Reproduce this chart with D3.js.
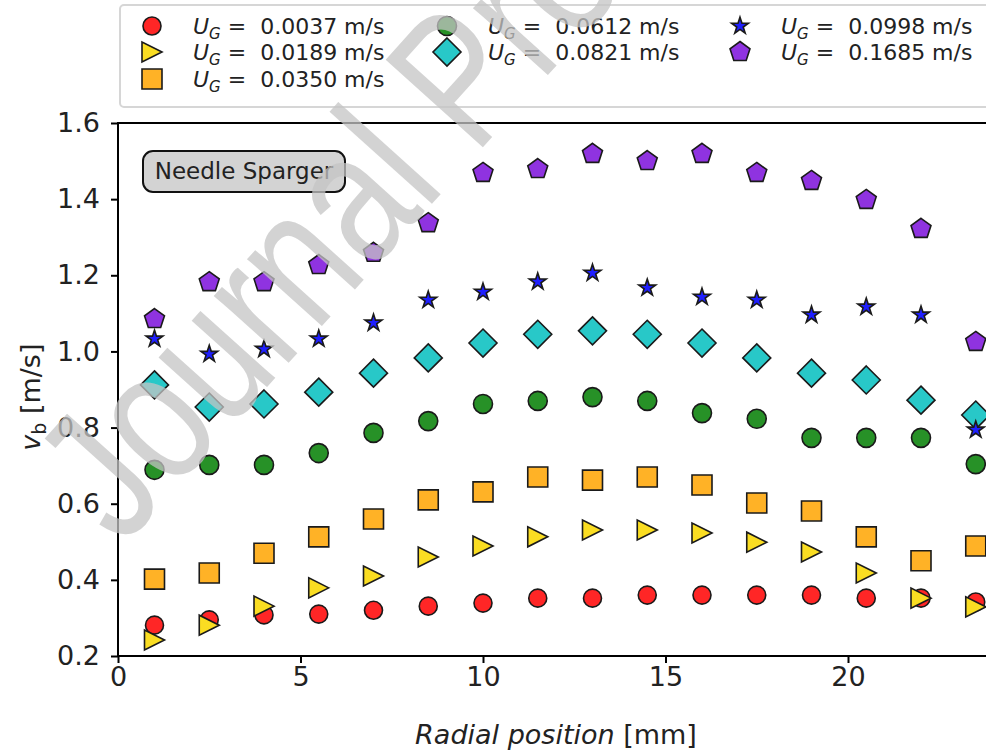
<!DOCTYPE html>
<html>
<head>
<meta charset="utf-8">
<script src="https://cdn.jsdelivr.net/npm/d3@7"></script>
<style>
  body { margin: 0; background: #fff; }
  svg { display: block; font-family: "DejaVu Sans", sans-serif; }
</style>
</head>
<body>
<div class="container"></div>
<script>
const w = 986;
const h = 753;

// data
const radialPos = [1, 2.5, 4, 5.5, 7, 8.5, 10, 11.5, 13, 14.5, 16, 17.5, 19, 20.5, 22, 23.5];
const ugLabels = ['0.0037', '0.0189', '0.0350', '0.0612', '0.0821', '0.0998', '0.1685'];
const vb0037 = [0.281, 0.295, 0.308, 0.310, 0.320, 0.331, 0.339, 0.352, 0.352, 0.360, 0.360, 0.360, 0.360, 0.352, 0.352, 0.342];
const vb0189 = [0.242, 0.281, 0.331, 0.379, 0.410, 0.460, 0.489, 0.513, 0.531, 0.531, 0.523, 0.499, 0.473, 0.418, 0.352, 0.329];
const vb0350 = [0.402, 0.418, 0.470, 0.513, 0.560, 0.610, 0.631, 0.670, 0.662, 0.670, 0.649, 0.602, 0.581, 0.513, 0.450, 0.489];
const vb0612 = [0.689, 0.702, 0.702, 0.733, 0.786, 0.817, 0.862, 0.870, 0.880, 0.870, 0.838, 0.823, 0.773, 0.773, 0.773, 0.704];
const vb0821 = [0.912, 0.854, 0.862, 0.893, 0.943, 0.983, 1.022, 1.045, 1.054, 1.045, 1.022, 0.983, 0.943, 0.925, 0.872, 0.833];
const vb0998 = [1.033, 0.993, 1.006, 1.033, 1.075, 1.135, 1.156, 1.183, 1.206, 1.167, 1.143, 1.135, 1.096, 1.117, 1.096, 0.794];
const vb1685 = [1.085, 1.182, 1.182, 1.227, 1.259, 1.337, 1.469, 1.479, 1.519, 1.500, 1.519, 1.469, 1.448, 1.398, 1.322, 1.025];
const xTicks = [0, 5, 10, 15, 20];
const yTicks = [0.2, 0.4, 0.6, 0.8, 1.0, 1.2, 1.4, 1.6];

const seriesValues = [vb0037, vb0189, vb0350, vb0612, vb0821, vb0998, vb1685];
const colors = ['#ff2626', '#fadd22', '#ffb226', '#279127', '#28c8c8', '#1f1fff', '#8f33e0'];

// custom marker shapes (size = radius^2)
const rightTriangle = {
  draw(ctx, size) {
    const r = Math.sqrt(size);
    ctx.moveTo(r, 0);
    ctx.lineTo(-r, -r);
    ctx.lineTo(-r, r);
    ctx.closePath();
  }
};
const diamond = {
  draw(ctx, size) {
    const r = Math.sqrt(size);
    ctx.moveTo(0, -r);
    ctx.lineTo(r, 0);
    ctx.lineTo(0, r);
    ctx.lineTo(-r, 0);
    ctx.closePath();
  }
};
const pentagon = {
  draw(ctx, size) {
    const r = Math.sqrt(size);
    for (let i = 0; i < 5; i++) {
      const a = -Math.PI / 2 + i * 2 * Math.PI / 5;
      if (i === 0) ctx.moveTo(r * Math.cos(a), r * Math.sin(a));
      else ctx.lineTo(r * Math.cos(a), r * Math.sin(a));
    }
    ctx.closePath();
  }
};
const markers = [
  d3.symbol(d3.symbolCircle, Math.PI * 9 * 9),
  d3.symbol(rightTriangle, 10 * 10),
  d3.symbol(d3.symbolSquare, 20 * 20),
  d3.symbol(d3.symbolCircle, Math.PI * 9.5 * 9.5),
  d3.symbol(diamond, 14 * 14),
  d3.symbol(d3.symbolStar, 88),
  d3.symbol(pentagon, 10.5 * 10.5)
];

const svg = d3.select('.container')
  .append('svg')
  .attr('width', w)
  .attr('height', h);

const xScale = d3.scaleLinear().domain([0, 24]).range([118, 994]);
const yScale = d3.scaleLinear().domain([0.2, 1.6]).range([656, 123]);

// axes
const xAxis = svg.append('g')
  .attr('transform', `translate(0, ${yScale(0.2)})`)
  .call(d3.axisBottom(xScale).tickValues(xTicks).tickFormat(d3.format('d')).tickSize(7).tickPadding(4));
const yAxis = svg.append('g')
  .attr('transform', `translate(${xScale(0)}, 0)`)
  .call(d3.axisLeft(yScale).tickValues(yTicks).tickFormat(d3.format('.1f')).tickSize(7).tickPadding(11));
[xAxis, yAxis].forEach(g => {
  g.select('.domain').remove();
  g.selectAll('line').attr('stroke', '#000').attr('stroke-width', 2);
  g.selectAll('text').attr('fill', '#222').style('font-size', '27px').style('font-family', '"DejaVu Sans", sans-serif');
});

// spines
svg.append('rect')
  .attr('x', xScale(0))
  .attr('y', yScale(1.6))
  .attr('width', xScale(24) - xScale(0))
  .attr('height', yScale(0.2) - yScale(1.6))
  .attr('fill', 'none')
  .attr('stroke', '#000')
  .attr('stroke-width', 2);

// axis labels
const xLabel = svg.append('text')
  .attr('x', (xScale(0) + xScale(24)) / 2)
  .attr('y', 744)
  .attr('text-anchor', 'middle')
  .style('font-size', '27px')
  .attr('fill', '#222');
xLabel.append('tspan').style('font-style', 'italic').text('Radial position');
xLabel.append('tspan').text(' [mm]');

const yLabel = svg.append('text')
  .attr('transform', `translate(40, ${yScale(0.88)}) rotate(-90)`)
  .attr('text-anchor', 'middle')
  .style('font-size', '27px')
  .attr('fill', '#222');
yLabel.append('tspan').style('font-style', 'italic').text('v');
yLabel.append('tspan').attr('dy', 6).style('font-size', '19px').text('b');
yLabel.append('tspan').attr('dy', -6).text(' [m/s]');

// annotation box
const note = svg.append('g').attr('transform', 'translate(244, 171)');
note.append('rect')
  .attr('x', -101).attr('y', -20)
  .attr('width', 202).attr('height', 41)
  .attr('rx', 10)
  .attr('fill', '#d3d3d3')
  .attr('stroke', '#111')
  .attr('stroke-width', 2);
note.append('text')
  .attr('text-anchor', 'middle')
  .attr('dy', '0.35em')
  .style('font-size', '23px')
  .attr('fill', '#222')
  .text('Needle Sparger');

// data points
seriesValues.forEach((vals, s) => {
  svg.append('g')
    .selectAll('path')
    .data(vals)
    .enter()
    .append('path')
    .attr('d', markers[s])
    .attr('transform', (d, i) => `translate(${xScale(radialPos[i])}, ${yScale(d)})`)
    .attr('fill', colors[s])
    .attr('stroke', '#1a1a1a')
    .attr('stroke-width', 1.6);
});

// legend (3 columns filled 3, 2, 2 like matplotlib)
const legend = svg.append('g');
legend.append('rect')
  .attr('x', 120).attr('y', 5)
  .attr('width', 900).attr('height', 102)
  .attr('rx', 4)
  .attr('fill', '#fff')
  .attr('fill-opacity', 0.8)
  .attr('stroke', '#d6d6d6')
  .attr('stroke-width', 2);
const colX = [152, 447, 740];
const rowY = [26, 52, 79];
const colOf = [0, 0, 0, 1, 1, 2, 2];
const rowOf = [0, 1, 2, 0, 1, 0, 1];
ugLabels.forEach((lab, i) => {
  const item = legend.append('g').attr('transform', `translate(${colX[colOf[i]]}, ${rowY[rowOf[i]]})`);
  item.append('path')
    .attr('d', markers[i])
    .attr('fill', colors[i])
    .attr('stroke', '#1a1a1a')
    .attr('stroke-width', 1.6);
  const t = item.append('text')
    .attr('x', 41)
    .attr('dy', '0.35em')
    .style('font-size', '22px')
    .style('white-space', 'pre')
    .attr('fill', '#222');
  t.append('tspan').style('font-style', 'italic').text('U');
  t.append('tspan').attr('dy', 5).style('font-size', '15px').style('font-style', 'italic').text('G');
  t.append('tspan').attr('dy', -5).text(' =  ' + lab + ' m/s');
});

// watermark
svg.append('text')
  .attr('transform', 'translate(122, 548) rotate(-48) scale(0.78, 1)')
  .style('font-family', '"Liberation Sans", Arial, sans-serif')
  .style('font-size', '190px')
  .attr('fill', '#c4c4c4')
  .attr('fill-opacity', 0.75)
  .text('Journal Pre-proof');
</script>
</body>
</html>
